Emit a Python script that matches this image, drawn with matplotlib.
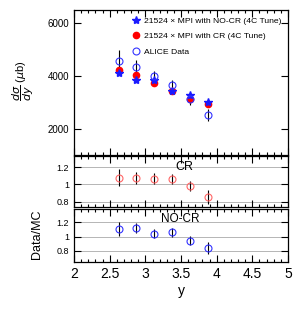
import matplotlib
matplotlib.use("Agg")
import matplotlib.pyplot as plt
from matplotlib.ticker import MultipleLocator, FixedLocator

plt.rcParams['font.family'] = ['Liberation Sans', 'DejaVu Sans']
plt.rcParams['mathtext.fontset'] = 'dejavusans'

y_bins = [2.625, 2.875, 3.125, 3.375, 3.625, 3.875]
alice = [4580, 4340, 3980, 3640, 3110, 2510]
alice_err = [400, 250, 220, 190, 200, 220]
cr = [4240, 4030, 3730, 3430, 3130, 2940]
nocr = [4120, 3850, 3860, 3440, 3290, 3000]

ratio_cr = [1.08, 1.075, 1.065, 1.06, 0.985, 0.855]
ratio_cr_err = [0.10, 0.07, 0.065, 0.06, 0.06, 0.08]
ratio_nocr = [1.11, 1.12, 1.04, 1.06, 0.945, 0.845]
ratio_nocr_err = [0.10, 0.07, 0.06, 0.06, 0.06, 0.08]

fig = plt.figure(figsize=(3.0, 3.12), dpi=100)
L, R = 0.247, 0.96
ax1 = fig.add_axes([L, 0.503, R - L, 0.968 - 0.503])
ax2 = fig.add_axes([L, 0.337, R - L, 0.500 - 0.337])
ax3 = fig.add_axes([L, 0.161, R - L, 0.329 - 0.161])

blue = '#1a1aff'
red = '#ff0000'
lred = '#ff6666'
lblue = '#3333ff'

ax1.errorbar(y_bins, alice, yerr=alice_err, fmt='none', ecolor='black', elinewidth=0.8, capsize=0, zorder=1)
ax1.plot(y_bins, nocr, linestyle='none', marker='*', color=blue, markersize=6, zorder=3,
         label='21524 \u00d7 MPI with NO-CR (4C Tune)')
ax1.plot(y_bins, cr, linestyle='none', marker='o', color=red, markersize=4.5, zorder=2,
         label='21524 \u00d7 MPI with CR (4C Tune)')
ax1.plot(y_bins, alice, linestyle='none', marker='o', mfc='none', mec=lblue, mew=0.8, markersize=5, zorder=4,
         label='ALICE Data')
ax1.set_ylim(1000, 6500)
ax1.yaxis.set_major_locator(FixedLocator([2000, 4000, 6000]))
ax1.set_ylabel(r'$\dfrac{d\sigma}{dy}$ ($\mu$b)', fontsize=8)
leg = ax1.legend(loc='upper right', fontsize=6.1, frameon=False, handlelength=0.8,
                 handletextpad=0.5, borderaxespad=0.6, labelspacing=0.9, borderpad=0.2)

ax2.errorbar(y_bins, ratio_cr, yerr=ratio_cr_err, fmt='none', ecolor='black', elinewidth=0.8, capsize=0, zorder=1)
ax2.plot(y_bins, ratio_cr, linestyle='none', marker='o', mfc='none', mec=lred, mew=0.8, markersize=5, zorder=3)
ax2.set_ylim(0.74, 1.33)
ax2.text(3.54, 1.2, 'CR', fontsize=9, ha='center', va='center')

ax3.errorbar(y_bins, ratio_nocr, yerr=ratio_nocr_err, fmt='none', ecolor='black', elinewidth=0.8, capsize=0, zorder=1)
ax3.plot(y_bins, ratio_nocr, linestyle='none', marker='o', mfc='none', mec=lblue, mew=0.8, markersize=5, zorder=3)
ax3.set_ylim(0.65, 1.38)
ax3.text(3.49, 1.24, 'NO-CR', fontsize=8.5, ha='center', va='center')

for ax in (ax2, ax3):
    ax.yaxis.set_major_locator(FixedLocator([0.8, 1.0, 1.2]))
    ax.set_yticklabels(['0.8', '1', '1.2'])
    for v in (0.8, 1.0, 1.2):
        ax.axhline(v, color='#555555', linestyle=(0, (1.2, 1.2)), linewidth=0.6, zorder=0)

for ax in (ax1, ax2, ax3):
    ax.set_xlim(2, 5)
    ax.xaxis.set_major_locator(MultipleLocator(0.5))
    ax.xaxis.set_minor_locator(MultipleLocator(0.1))
    ax.tick_params(which='both', direction='in', top=True, right=True, width=0.8)
    ax.tick_params(which='major', length=5)
    ax.tick_params(which='minor', length=2.5)
    ax.tick_params(axis='y', labelsize=6.5)
    for s in ax.spines.values():
        s.set_linewidth(0.9)

ax1.tick_params(axis='y', labelsize=7)
ax1.tick_params(axis='x', labelbottom=False)
ax2.tick_params(axis='x', labelbottom=False)
ax3.tick_params(axis='x', labelsize=10)
ax3.set_xticks([2, 2.5, 3, 3.5, 4, 4.5, 5])
ax3.set_xticklabels(['2', '2.5', '3', '3.5', '4', '4.5', '5'])
ax3.set_xlabel('y', fontsize=10)
ax3.xaxis.set_label_coords(0.5, -0.42)
ax1.yaxis.set_label_coords(-0.18, 0.51)

fig.text(0.123, 0.25, 'Data/MC', rotation=90, fontsize=9, ha='center', va='center')

fig.savefig('out.png', dpi=100)
